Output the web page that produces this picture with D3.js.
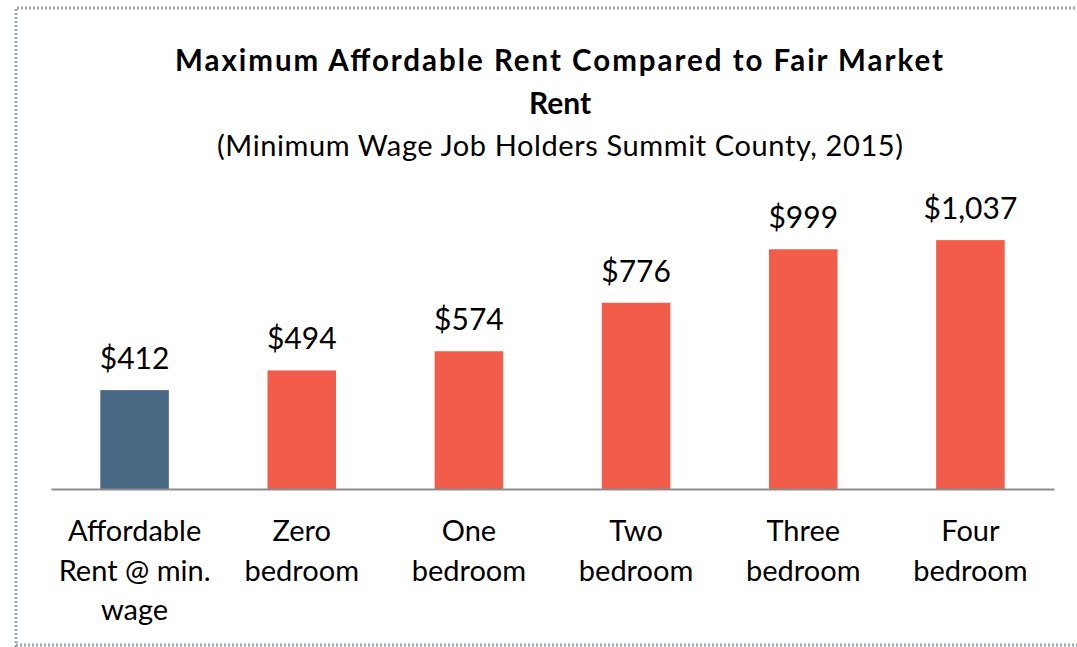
<!DOCTYPE html>
<html lang="en">
	<head>
		<meta charset="UTF-8" />
		<script src="https://d3js.org/d3.v7.min.js"></script>
		<title>Maximum Affordable Rent</title>
		<style>
			body { margin: 0; background: #fff; }
			text { font-family: Lato, "Open Sans", sans-serif; fill: #000; }
		</style>
	</head>
	<body>
		<svg width="1077" height="647"></svg>
		<script>
			const categories = ["Affordable Rent @ min. wage", "Zero bedroom", "One bedroom", "Two bedroom", "Three bedroom", "Four bedroom"];
			const catLines = [["Affordable", "Rent @ min.", "wage"], ["Zero", "bedroom"], ["One", "bedroom"], ["Two", "bedroom"], ["Three", "bedroom"], ["Four", "bedroom"]];
			const rents = [412, 494, 574, 776, 999, 1037];
			const titleLines = ["Maximum Affordable Rent Compared to Fair Market", "Rent"];
			const subtitle = "(Minimum Wage Job Holders Summit County, 2015)";

			const svg = d3.select("svg");

			// dotted frame
			svg.append("path")
				.attr("d", "M16,647 L16,8 L1077,8 M16,645 L1077,645")
				.attr("fill", "none")
				.attr("stroke", "#9aa8b8")
				.attr("stroke-width", 3)
				.attr("stroke-dasharray", "2,2");

			const x = d3.scaleBand()
				.domain(categories)
				.range([51, 1054])
				.paddingInner(0.59)
				.paddingOuter(0.295);
			const y = d3.scaleLinear()
				.domain([0, 1200])
				.range([489, 201]);
			const colour = (d, i) => i === 0 ? "#486884" : "#f15c4b";

			svg.selectAll("rect.bar")
				.data(rents)
				.join("rect")
				.attr("class", "bar")
				.attr("x", (d, i) => x(categories[i]))
				.attr("y", d => y(d))
				.attr("width", x.bandwidth())
				.attr("height", d => y(0) - y(d))
				.attr("fill", colour);

			svg.selectAll("text.val")
				.data(rents)
				.join("text")
				.attr("class", "val")
				.attr("x", (d, i) => x(categories[i]) + x.bandwidth() / 2)
				.attr("y", d => y(d) - 21)
				.attr("text-anchor", "middle")
				.style("font-size", "30px")
				.text(d => "$" + d3.format(",")(d));

			const axis = svg.append("g")
				.attr("transform", "translate(0,489)")
				.call(d3.axisBottom(x).tickSize(0).tickFormat(""));
			axis.select(".domain").attr("stroke", "#8c8c8c").attr("stroke-width", 2);

			categories.forEach((c, i) => {
				const t = svg.append("text")
					.attr("x", x(c) + x.bandwidth() / 2)
					.attr("text-anchor", "middle")
					.style("font-size", "29px");
				catLines[i].forEach((l, j) => {
					t.append("tspan")
						.attr("x", x(c) + x.bandwidth() / 2)
						.attr("y", 541 + j * 39.5)
						.text(l);
				});
			});

			svg.append("text")
				.attr("x", 559)
				.attr("y", 71)
				.attr("text-anchor", "middle")
				.style("font-size", "29.5px")
				.style("font-weight", "bold")
				.attr("textLength", 768)
				.attr("lengthAdjust", "spacing")
				.text(titleLines[0]);
			svg.append("text")
				.attr("x", 560)
				.attr("y", 114)
				.attr("text-anchor", "middle")
				.style("font-size", "30px")
				.style("font-weight", "bold")
				.text(titleLines[1]);
			svg.append("text")
				.attr("x", 560)
				.attr("y", 156)
				.attr("text-anchor", "middle")
				.style("font-size", "29px")
				.attr("textLength", 686)
				.attr("lengthAdjust", "spacing")
				.text(subtitle);
		</script>
	</body>
</html>
